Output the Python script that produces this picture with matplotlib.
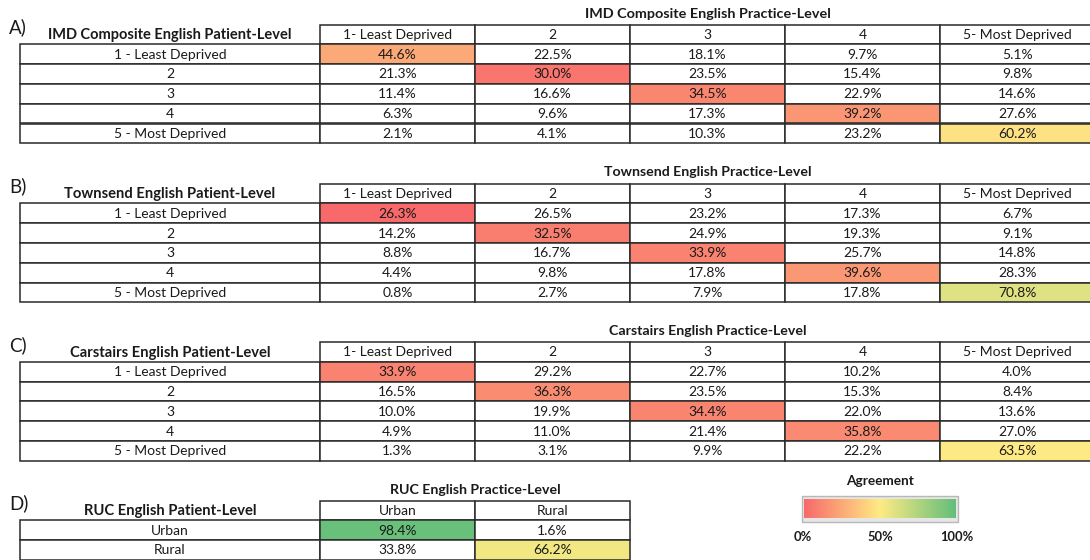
import matplotlib
matplotlib.use("Agg")
import matplotlib.pyplot as plt
from matplotlib.patches import Rectangle
from matplotlib.colors import LinearSegmentedColormap, TwoSlopeNorm
import numpy as np

# ---------------- data ----------------
quint_rows = ["1 - Least Deprived", "2", "3", "4", "5 - Most Deprived"]
quint_cols = ["1- Least Deprived", "2", "3", "4", "5- Most Deprived"]

imd_values = [
    [44.6, 22.5, 18.1, 9.7, 5.1],
    [21.3, 30.0, 23.5, 15.4, 9.8],
    [11.4, 16.6, 34.5, 22.9, 14.6],
    [6.3, 9.6, 17.3, 39.2, 27.6],
    [2.1, 4.1, 10.3, 23.2, 60.2],
]
townsend_values = [
    [26.3, 26.5, 23.2, 17.3, 6.7],
    [14.2, 32.5, 24.9, 19.3, 9.1],
    [8.8, 16.7, 33.9, 25.7, 14.8],
    [4.4, 9.8, 17.8, 39.6, 28.3],
    [0.8, 2.7, 7.9, 17.8, 70.8],
]
carstairs_values = [
    [33.9, 29.2, 22.7, 10.2, 4.0],
    [16.5, 36.3, 23.5, 15.3, 8.4],
    [10.0, 19.9, 34.4, 22.0, 13.6],
    [4.9, 11.0, 21.4, 35.8, 27.0],
    [1.3, 3.1, 9.9, 22.2, 63.5],
]
ruc_rows = ["Urban", "Rural"]
ruc_cols = ["Urban", "Rural"]
ruc_values = [
    [98.4, 1.6],
    [33.8, 66.2],
]

panel_letters = ["A)", "B)", "C)", "D)"]
patient_titles = ["IMD Composite English Patient-Level", "Townsend English Patient-Level",
                  "Carstairs English Patient-Level", "RUC English Patient-Level"]
practice_titles = ["IMD Composite English Practice-Level", "Townsend English Practice-Level",
                   "Carstairs English Practice-Level", "RUC English Practice-Level"]
legend_title = "Agreement"
legend_ticks = [0, 50, 100]

# ---------------- style ----------------
RED, YEL, GRN = "#F8696B", "#FFEB84", "#63BE7B"
cmap = LinearSegmentedColormap.from_list("excel3", [RED, YEL, GRN])
norm = TwoSlopeNorm(vmin=26.5, vcenter=63.0, vmax=100.0)

FONT = ["Lato", "DejaVu Sans"]
TXT = "#1a1a1a"
EDGE = "#2a2a2a"

fig = plt.figure(figsize=(10.9, 5.6), dpi=100)
ax = fig.add_axes([0, 0, 1, 1])
ax.set_xlim(0, 1090)
ax.set_ylim(560, 0)
ax.axis("off")

LABEL_X0, LABEL_X1 = 20, 320
COL_W = 155
ROW_H = 19.8


def cell(x, y, w, h, fc="white"):
    ax.add_patch(Rectangle((x, y), w, h, facecolor=fc, edgecolor=EDGE, lw=1.1, zorder=2))


def draw_table(top, letter, ptitle, prtitle, rows, cols, values, fs, left_fs, top_fs):
    ncols = len(cols)
    x_edges = LABEL_X1 + COL_W * np.arange(ncols + 1)
    # practice title above header
    ax.text((x_edges[0] + x_edges[-1]) / 2, top - 11, prtitle, ha="center", va="center",
            fontsize=top_fs, fontweight="bold", family=FONT, color=TXT)
    # letter and patient title
    ax.text(9, top + 3, letter, ha="left", va="center", fontsize=13.5, family=FONT, color=TXT)
    ax.text((LABEL_X0 + LABEL_X1) / 2, top + ROW_H / 2 + 1, ptitle, ha="center", va="center",
            fontsize=left_fs, fontweight="bold", family=FONT, color=TXT)
    # header cells
    for j, c in enumerate(cols):
        cell(x_edges[j], top, COL_W, ROW_H)
        ax.text(x_edges[j] + COL_W / 2, top + ROW_H / 2 + 0.5, c, ha="center", va="center",
                fontsize=fs, family=FONT, color=TXT, zorder=3)
    # body
    for i, r in enumerate(rows):
        y = top + ROW_H * (i + 1)
        cell(LABEL_X0, y, LABEL_X1 - LABEL_X0, ROW_H)
        ax.text((LABEL_X0 + LABEL_X1) / 2, y + ROW_H / 2 + 0.5, r, ha="center", va="center",
                fontsize=fs, family=FONT, color=TXT, zorder=3)
        for j in range(ncols):
            v = values[i][j]
            fc = cmap(norm(v)) if i == j else "white"
            cell(x_edges[j], y, COL_W, ROW_H, fc)
            ax.text(x_edges[j] + COL_W / 2, y + ROW_H / 2 + 0.5, f"{v:.1f}%", ha="center",
                    va="center", fontsize=fs, family=FONT, color=TXT, zorder=3)


draw_table(24.5, panel_letters[0], patient_titles[0], practice_titles[0],
           quint_rows, quint_cols, imd_values, 10, 10.5, 10.4)
draw_table(183.5, panel_letters[1], patient_titles[1], practice_titles[1],
           quint_rows, quint_cols, townsend_values, 10, 10.6, 10.2)
draw_table(342, panel_letters[2], patient_titles[2], practice_titles[2],
           quint_rows, quint_cols, carstairs_values, 10, 10.6, 10.2)
draw_table(500.5, panel_letters[3], patient_titles[3], practice_titles[3],
           ruc_rows, ruc_cols, ruc_values, 10, 10.6, 10.2)

# ---------------- legend colour bar ----------------
lx0, lx1, ly0, ly1 = 803, 957, 497, 521
grad_cmap = LinearSegmentedColormap.from_list("leg", [RED, YEL, GRN])
grad = np.linspace(0, 1, 256)[None, :]
ax.add_patch(Rectangle((lx0 - 1, ly0 - 1), lx1 - lx0 + 2, ly1 - ly0 + 2, facecolor="#e6e6e6",
                       edgecolor="#b8b8b8", lw=1.0, zorder=1))
ax.imshow(grad, cmap=grad_cmap, aspect="auto", extent=(lx0 + 1, lx1 - 1, ly1 - 2.5, ly0 + 2.5),
          zorder=2, interpolation="bilinear")
ax.set_xlim(0, 1090)
ax.set_ylim(560, 0)
ax.text((lx0 + lx1) / 2, 481, legend_title, ha="center", va="center", fontsize=9.8,
        fontweight="bold", family=FONT, color=TXT)
for t in legend_ticks:
    ax.text(lx0 + (lx1 - lx0) * t / 100, 537, f"{t}%", ha="center", va="center", fontsize=9.3,
            fontweight="bold", family=FONT, color=TXT)

fig.savefig("out.png", dpi=100)
